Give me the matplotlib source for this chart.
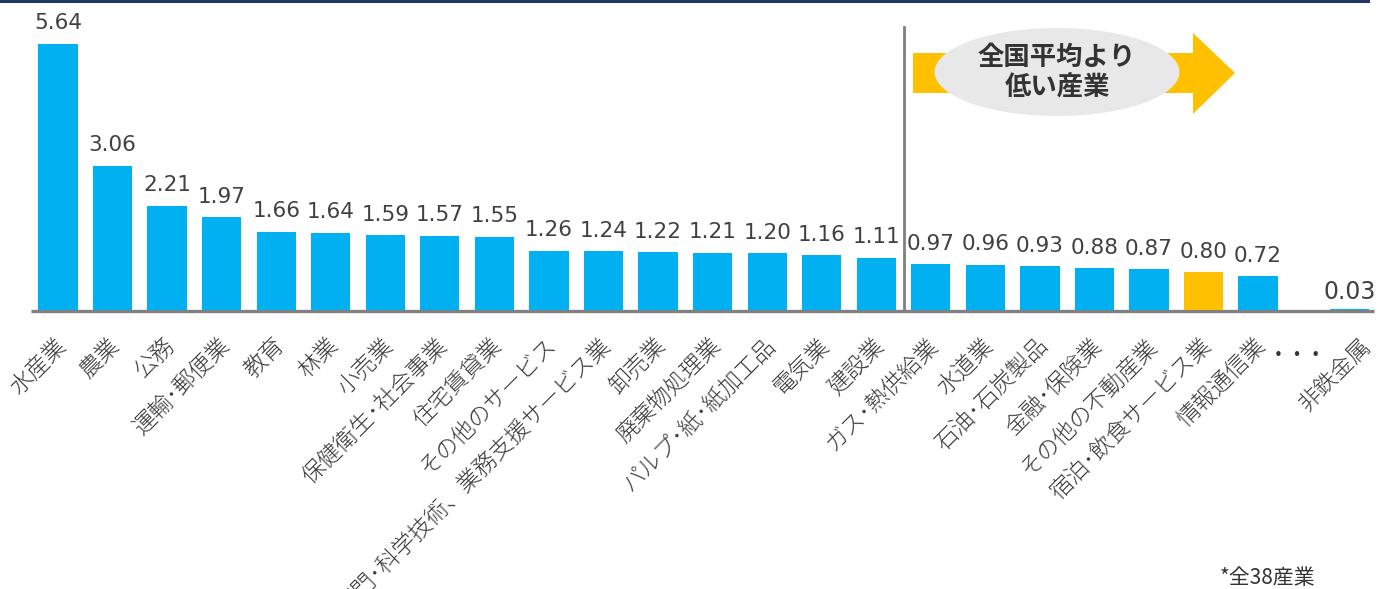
import matplotlib
matplotlib.use("Agg")
import matplotlib.pyplot as plt
from matplotlib.patches import Polygon, Ellipse
from matplotlib.lines import Line2D

categories = ['水産業', '農業', '公務', '運輸・郵便業', '教育', '林業', '小売業',
              '保健衛生・社会事業', '住宅賃貸業', 'その他のサービス',
              '専門・科学技術、業務支援サービス業', '卸売業', '廃棄物処理業',
              'パルプ・紙・紙加工品', '電気業', '建設業', 'ガス・熱供給業', '水道業',
              '石油・石炭製品', '金融・保険業', 'その他の不動産業',
              '宿泊・飲食サービス業', '情報通信業', '非鉄金属']
values = [5.64, 3.06, 2.21, 1.97, 1.66, 1.64, 1.59, 1.57, 1.55, 1.26, 1.24, 1.22,
          1.21, 1.20, 1.16, 1.11, 0.97, 0.96, 0.93, 0.88, 0.87, 0.80, 0.72, 0.03]
highlight = '宿泊・飲食サービス業'
arrow_text = '全国平均より\n低い産業'
footnote = '*全38産業'

W, H = 1390, 589
fig = plt.figure(figsize=(W / 100, H / 100), dpi=100)
fig.patch.set_facecolor('white')

def fp(x, y):
    return (x / W, 1 - y / H)

# axes: baseline at y=310px, unit step 54.55 px, first bar at x=58 px
base_px, step_px, x0_px, unit_px = 310, 54.55, 58, 47.2
ax = fig.add_axes([0, 1 - base_px / H, 1, base_px / H])
ax.set_xlim(-x0_px / step_px, (W - x0_px) / step_px)
ax.set_ylim(0, base_px / unit_px)
ax.axis('off')

positions = list(range(len(categories) - 1)) + [len(categories) - 1 + 0.68]
blue, yellow = '#00B0F0', '#FFC000'
colors = [yellow if c == highlight else blue for c in categories]
ax.bar(positions, values, width=0.72, color=colors, zorder=3)

# baseline (sits just under the bars)
ax.plot([positions[0] - 0.5, positions[-1] + 0.45], [-1.4 / unit_px] * 2,
        color='#808080', lw=2.4, solid_capstyle='butt', zorder=2, clip_on=False)
# divider
ax.plot([15.5, 15.5], [0, 6.0], color='#808080', lw=2, zorder=3)

num_font = 'DejaVu Sans'
jp_font = ['Noto Sans CJK JP', 'DejaVu Sans']
for i, (p, v) in enumerate(zip(positions, values)):
    last = i == len(values) - 1
    ax.annotate(f'{v:.2f}', (p, v), xytext=(0, 3 if last else 7.5),
                textcoords='offset points', ha='center', va='bottom',
                fontsize=17 if last else 15.5, color='#404040', family=num_font)
    ax.annotate(categories[i].replace('・', '･'), (p, 0),
                xytext=(13 if last else 3, -23), textcoords='offset points',
                rotation=45, ha='right', va='center', rotation_mode='anchor',
                fontsize=16.5, fontweight='light', color='#3a3a3a',
                family=jp_font, annotation_clip=False)

fig.text(*fp(1297, 355), '•  •  •', ha='center', va='center', fontsize=11,
         color='#333333', family=num_font)

# top navy line
fig.add_artist(Line2D([0, 1368 / W], [1 - 1 / H, 1 - 1 / H], color='#1F3864',
                      lw=2.2, transform=fig.transFigure))

# arrow
arrow_pts = [fp(913, 53), fp(1193, 53), fp(1193, 33), fp(1235, 73),
             fp(1193, 114), fp(1193, 93), fp(913, 93)]
fig.add_artist(Polygon(arrow_pts, closed=True, facecolor=yellow, edgecolor='none',
                       transform=fig.transFigure))
fig.add_artist(Ellipse(fp(1057, 72), 245 / W, 88 / H, facecolor='#E8E8E8',
                       edgecolor='none', transform=fig.transFigure))
fig.text(*fp(1057, 73), arrow_text, ha='center', va='center', fontsize=19,
         fontweight='bold', color='#333333', family=jp_font, linespacing=1.15)

fig.text(*fp(1267, 578), footnote, ha='center', va='center', fontsize=15,
         color='#333333', family=jp_font)

fig.savefig('out.png', dpi=100)
